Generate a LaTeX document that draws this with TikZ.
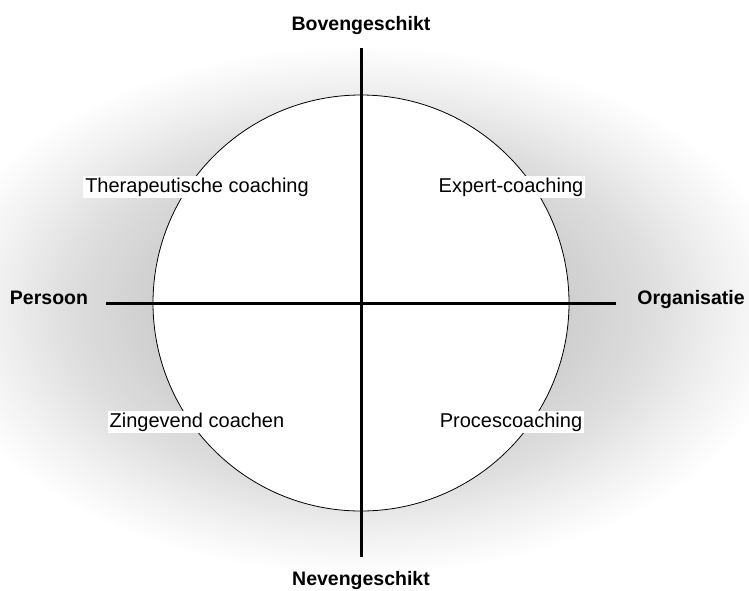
\documentclass[tikz,border=0pt]{standalone}
\usepackage{fontspec}
\setmainfont{Liberation Sans}
\pgfdeclareradialshading{glow}{\pgfpoint{0bp}{0bp}}{color(0bp)=(black!21); color(12bp)=(black!19); color(17bp)=(black!13); color(21bp)=(black!6); color(25bp)=(white); color(50bp)=(white)}
\tikzset{
  quad/.style={fill=white, inner sep=2pt, anchor=base, font=\fontsize{20}{24}\selectfont},
  axislabel/.style={inner sep=1pt, anchor=base, font=\fontsize{19.5}{24}\selectfont\bfseries},
  axis/.style={line width=3pt},
}
\begin{document}
\begin{tikzpicture}[x=1pt,y=-1pt]
\useasboundingbox (0,0) rectangle (749,590);
\fill[white] (0,0) rectangle (749,590);
\begin{scope}
\clip (0,0) rectangle (749,590);
\shade[shading=glow] (-69,45) rectangle (791,575);
\end{scope}
\node[circle, draw, fill=white, line width=0.8pt, minimum size=416pt, inner sep=0pt] (c) at (361,303) {};
\coordinate (top) at (361,48);
\coordinate (bot) at (361,557);
\coordinate (lft) at (106,303);
\coordinate (rgt) at (616,303);
\draw[axis] (top) -- (bot);
\draw[axis] (lft) -- (rgt);
\node[quad] (t1) at (197,192) {Therapeutische coaching};
\node[quad] (t2) at (511,192) {Expert-coaching};
\node[quad] (t3) at (197,427) {Zingevend coachen};
\node[quad] (t4) at (511,427) {Procescoaching};
\node[axislabel] (b) at (361,30) {Bovengeschikt};
\node[axislabel] (n) at (361,585) {Nevengeschikt};
\node[axislabel] (p) at (49,304) {Persoon};
\node[axislabel] (o) at (691,304) {Organisatie};
\end{tikzpicture}
\end{document}
